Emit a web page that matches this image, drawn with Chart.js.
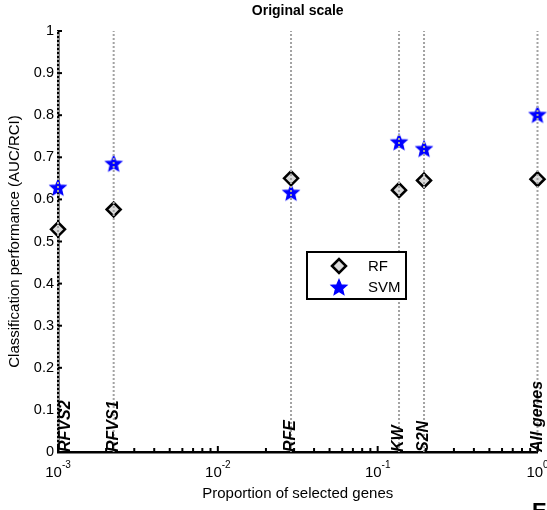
<!DOCTYPE html>
<html>
<head>
<meta charset="utf-8">
<script src="https://cdn.jsdelivr.net/npm/chart.js@4/dist/chart.umd.min.js"></script>
<style>
  html, body { margin: 0; padding: 0; background: #fff; }
  #wrap { width: 547px; height: 510px; }
</style>
</head>
<body>
<div id="wrap"><canvas id="grafico" width="547" height="510"></canvas></div>
<script>
// metodos de selecao e proporcao de genes selecionados
const methods = ["RFVS2", "RFVS1", "RFE", "KW", "S2N", "All genes"];
const proportions = [0.001, 0.00223, 0.0287, 0.136, 0.195, 1];
const rfValues = [0.529, 0.576, 0.650, 0.622, 0.645, 0.648];
const svmValues = [0.629, 0.686, 0.617, 0.737, 0.721, 0.802];
const yTicks = [0, 0.1, 0.2, 0.3, 0.4, 0.5, 0.6, 0.7, 0.8, 0.9, 1];
const xTickExponents = [-3, -2, -1, 0];

const FONT = "'Liberation Sans', Arial, Helvetica, sans-serif";

// estrela cheia (o 'star' do Chart.js e so um asterisco)
function makeStar(r, color) {
  const s = Math.ceil(r * 2 + 4);
  const c = document.createElement("canvas");
  c.width = s; c.height = s;
  const g = c.getContext("2d");
  g.translate(s / 2, s / 2 + 0.8);
  g.beginPath();
  for (let i = 0; i < 10; i++) {
    const rr = i % 2 ? r * 0.45 : r;
    const a = -Math.PI / 2 + i * Math.PI / 5;
    g.lineTo(rr * Math.cos(a), rr * Math.sin(a));
  }
  g.closePath();
  g.fillStyle = color;
  g.fill();
  g.lineWidth = 1.4;
  g.strokeStyle = color;
  g.stroke();
  return c;
}
const starImg = makeStar(8, "#0000ff");

const vLines = proportions.map((p, i) => ({
  type: "line",
  label: methods[i],
  data: [{ x: p, y: 0 }, { x: p, y: 1 }],
  borderColor: "#a3a3a3",
  borderWidth: 2,
  borderDash: [2, 2],
  pointRadius: 0,
  order: 0,
  clip: false,
  isGuide: true
}));

const rfSet = {
  type: "scatter",
  label: "RF",
  data: proportions.map((p, i) => ({ x: p, y: rfValues[i] })),
  pointStyle: "rectRot",
  pointRadius: 7,
  backgroundColor: "#dadada",
  borderColor: "#000",
  borderWidth: 2.5,
  order: 1,
  clip: false
};
const svmSet = {
  type: "scatter",
  label: "SVM",
  data: proportions.map((p, i) => ({ x: p, y: svmValues[i] })),
  pointStyle: starImg,
  pointRadius: 8,
  backgroundColor: "#0000ff",
  borderColor: "#0000ff",
  order: 1,
  clip: false
};

const decorations = {
  id: "decorations",
  afterDraw(chart) {
    const ctx = chart.ctx;
    const a = chart.chartArea;
    const xs = chart.scales.x, ys = chart.scales.y;
    ctx.save();
    ctx.fillStyle = "#000";
    ctx.strokeStyle = "#000";

    // y ticks
    ctx.font = "14.5px " + FONT;
    ctx.textAlign = "right";
    ctx.textBaseline = "middle";
    ctx.lineWidth = 2;
    yTicks.forEach(v => {
      const y = ys.getPixelForValue(v);
      ctx.fillText(String(v), a.left - 4, y);
      ctx.beginPath();
      ctx.moveTo(a.left, y);
      ctx.lineTo(a.left + 4, y);
      ctx.stroke();
    });

    // x ticks (log, com menores)
    ctx.lineWidth = 2;
    xTickExponents.forEach((e, k) => {
      const base = Math.pow(10, e);
      const x = xs.getPixelForValue(base);
      ctx.beginPath();
      ctx.moveTo(x, a.bottom);
      ctx.lineTo(x, a.bottom - 6);
      ctx.stroke();
      if (k < xTickExponents.length - 1) {
        for (let m = 2; m <= 9; m++) {
          const xm = xs.getPixelForValue(m * base);
          ctx.beginPath();
          ctx.moveTo(xm, a.bottom);
          ctx.lineTo(xm, a.bottom - 4);
          ctx.stroke();
        }
      }
      ctx.font = "15px " + FONT;
      const w1 = ctx.measureText("10").width;
      ctx.font = "10px " + FONT;
      const sup = String(e);
      const w2 = ctx.measureText(sup).width;
      const x0 = x - (w1 + w2) / 2;
      ctx.textAlign = "left";
      ctx.textBaseline = "alphabetic";
      ctx.font = "15px " + FONT;
      ctx.fillText("10", x0, 477);
      ctx.font = "10px " + FONT;
      ctx.fillText(sup, x0 + w1, 468);
    });

    // nomes dos metodos
    ctx.font = "italic bold 16px " + FONT;
    ctx.textAlign = "left";
    ctx.textBaseline = "middle";
    methods.forEach((m, i) => {
      const cx = Math.max(xs.getPixelForValue(proportions[i]), a.left + 8);
      ctx.save();
      ctx.translate(cx, a.bottom);
      ctx.rotate(-Math.PI / 2);
      ctx.fillText(m, 0, 0);
      ctx.restore();
    });

    // titulos
    const midX = (a.left + a.right) / 2;
    ctx.textAlign = "center";
    ctx.font = "bold 14px " + FONT;
    ctx.fillText("Original scale", midX, 11);
    ctx.font = "15px " + FONT;
    ctx.fillText("Proportion of selected genes", midX, 494);
    ctx.save();
    ctx.translate(15, (a.top + a.bottom) / 2);
    ctx.rotate(-Math.PI / 2);
    ctx.fillText("Classification performance (AUC/RCI)", 0, 0);
    ctx.restore();

    // legenda
    const box = { x: 307, y: 252, w: 99, h: 47 };
    ctx.fillStyle = "#fff";
    ctx.fillRect(box.x, box.y, box.w, box.h);
    ctx.lineWidth = 2;
    ctx.strokeRect(box.x, box.y, box.w, box.h);
    const items = chart.data.datasets.filter(d => !d.isGuide);
    items.forEach((d, i) => {
      const ly = box.y + 14 + i * 21;
      ctx.fillStyle = d.backgroundColor;
      ctx.strokeStyle = d.borderColor;
      ctx.lineWidth = d.borderWidth || 1;
      Chart.helpers.drawPoint(ctx, { pointStyle: d.pointStyle, radius: d.pointRadius, rotation: 0, borderWidth: d.borderWidth || 1 }, 339, ly);
      ctx.fillStyle = "#000";
      ctx.font = "15px " + FONT;
      ctx.textAlign = "left";
      ctx.fillText(d.label, 368, ly + 1);
    });

    // pedaco da letra do painel seguinte
    ctx.fillStyle = "#000";
    ctx.font = "bold 22px " + FONT;
    ctx.textBaseline = "top";
    ctx.fillText("E", 532, 501);
    ctx.restore();
  }
};

new Chart(document.getElementById("grafico").getContext("2d"), {
  data: { datasets: [...vLines, rfSet, svmSet] },
  options: {
    responsive: false,
    animation: false,
    events: [],
    layout: { padding: { top: 31, right: 8, left: 0, bottom: 0 } },
    scales: {
      x: {
        type: "logarithmic",
        min: 0.001,
        max: 1,
        grid: { display: false },
        border: { display: true, color: "#000", width: 2.5 },
        ticks: { display: false },
        afterFit(scale) { scale.height = 58; }
      },
      y: {
        type: "linear",
        min: 0,
        max: 1,
        grid: { display: false },
        border: { display: true, color: "#000", width: 2.5, dash: [2, 2] },
        ticks: { display: false },
        afterFit(scale) { scale.width = 58; }
      }
    },
    plugins: {
      legend: { display: false },
      tooltip: { enabled: false },
      title: { display: false }
    }
  },
  plugins: [decorations]
});
</script>
</body>
</html>
